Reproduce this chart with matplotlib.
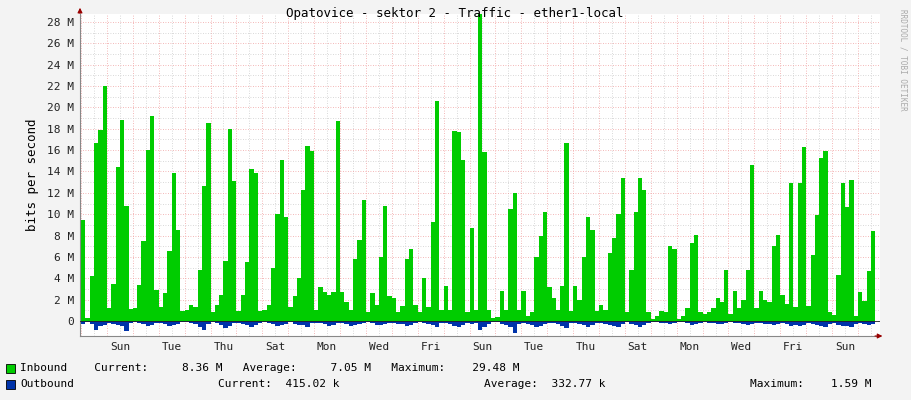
import matplotlib
matplotlib.use("Agg")
import matplotlib.pyplot as plt
import numpy as np

# Inbound traffic, Mbit/s, 4-hour bins, first bin starts at day -1 (Saturday)
inbound_rows = [
    [9.5, 0.3, 4.2, 16.7, 17.9, 22.0],
    [1.2, 3.5, 14.4, 18.8, 10.8, 1.1],
    [1.2, 3.4, 7.5, 16.0, 19.2, 2.9],
    [1.3, 2.6, 6.6, 13.9, 8.5, 0.9],
    [1.0, 1.5, 1.3, 4.8, 12.6, 18.5],
    [0.8, 1.5, 2.4, 5.6, 18.0, 13.1],
    [0.9, 2.4, 5.5, 14.2, 13.9, 0.9],
    [1.0, 1.5, 5.0, 10.0, 15.1, 9.7],
    [1.3, 2.3, 4.0, 12.3, 16.4, 15.9],
    [1.0, 3.2, 2.7, 2.4, 2.7, 18.7],
    [2.7, 1.8, 1.0, 5.8, 7.6, 11.3],
    [0.8, 2.6, 1.5, 6.0, 10.8, 2.3],
    [2.2, 0.8, 1.4, 5.8, 6.7, 1.5],
    [0.8, 4.0, 1.3, 9.3, 20.6, 1.0],
    [3.3, 1.0, 17.8, 17.7, 15.1, 0.8],
    [8.7, 1.0, 29.5, 15.8, 1.0, 0.3],
    [0.4, 2.8, 1.0, 10.5, 12.0, 1.0],
    [2.8, 0.5, 0.8, 6.0, 8.0, 10.2],
    [3.2, 2.2, 1.0, 3.3, 16.7, 0.9],
    [3.3, 2.0, 6.0, 9.7, 8.5, 0.9],
    [1.5, 1.0, 6.4, 7.8, 10.0, 13.4],
    [0.8, 4.8, 10.2, 13.4, 12.3, 0.8],
    [0.2, 0.5, 0.9, 0.8, 7.0, 6.7],
    [0.2, 0.5, 1.2, 7.3, 8.1, 0.8],
    [0.7, 0.8, 1.2, 2.2, 1.8, 4.8],
    [0.7, 2.8, 1.2, 2.0, 4.8, 14.6],
    [1.2, 2.8, 2.0, 1.8, 7.0, 8.1],
    [2.4, 1.6, 12.9, 1.3, 12.9, 16.3],
    [1.4, 6.2, 9.9, 15.3, 15.9, 0.8],
    [0.6, 4.3, 12.9, 10.7, 13.2, 0.5],
    [2.7, 1.9, 4.7, 8.4],
]
outbound_rows = [
    [0.3, 0.1, 0.3, 0.8, 0.5, 0.4],
    [0.2, 0.3, 0.4, 0.5, 0.9, 0.2],
    [0.1, 0.2, 0.3, 0.5, 0.4, 0.2],
    [0.2, 0.3, 0.5, 0.4, 0.3, 0.1],
    [0.1, 0.2, 0.3, 0.6, 0.8, 0.3],
    [0.1, 0.2, 0.4, 0.7, 0.5, 0.2],
    [0.2, 0.3, 0.4, 0.6, 0.4, 0.2],
    [0.1, 0.2, 0.3, 0.5, 0.4, 0.3],
    [0.1, 0.3, 0.4, 0.4, 0.6, 0.2],
    [0.2, 0.2, 0.3, 0.5, 0.4, 0.2],
    [0.2, 0.3, 0.5, 0.4, 0.3, 0.2],
    [0.1, 0.2, 0.4, 0.4, 0.3, 0.2],
    [0.2, 0.3, 0.3, 0.5, 0.4, 0.2],
    [0.1, 0.2, 0.3, 0.4, 0.6, 0.2],
    [0.2, 0.3, 0.5, 0.6, 0.4, 0.2],
    [0.3, 0.2, 0.8, 0.6, 0.3, 0.1],
    [0.1, 0.3, 0.4, 0.6, 1.1, 0.3],
    [0.2, 0.3, 0.4, 0.6, 0.5, 0.3],
    [0.2, 0.2, 0.3, 0.5, 0.7, 0.2],
    [0.2, 0.3, 0.4, 0.6, 0.4, 0.2],
    [0.2, 0.3, 0.4, 0.5, 0.6, 0.3],
    [0.1, 0.3, 0.4, 0.6, 0.4, 0.2],
    [0.1, 0.1, 0.2, 0.2, 0.3, 0.2],
    [0.1, 0.1, 0.2, 0.4, 0.3, 0.2],
    [0.1, 0.2, 0.2, 0.3, 0.3, 0.2],
    [0.1, 0.2, 0.2, 0.3, 0.4, 0.3],
    [0.2, 0.2, 0.3, 0.3, 0.4, 0.3],
    [0.2, 0.3, 0.5, 0.4, 0.5, 0.4],
    [0.2, 0.3, 0.4, 0.5, 0.6, 0.3],
    [0.2, 0.4, 0.5, 0.5, 0.6, 0.3],
    [0.2, 0.3, 0.4, 0.3],
]
day_labels = ["Sun", "Tue", "Thu", "Sat", "Mon", "Wed", "Fri",
              "Sun", "Tue", "Thu", "Sat", "Mon", "Wed", "Fri", "Sun"]
y_ticks = [0, 2, 4, 6, 8, 10, 12, 14, 16, 18, 20, 22, 24, 26, 28]

inbound = np.concatenate([np.array(r) for r in inbound_rows])
outbound = np.concatenate([np.array(r) for r in outbound_rows])
t = -1 + np.arange(len(inbound)) / 6.0  # days, relative to first Sunday midnight

W, H = 911, 400
fig = plt.figure(figsize=(W / 100, H / 100), dpi=100, facecolor="#F3F3F3")
x0, x1, ybot, ytop = 80, 880, 336, 14
ax = fig.add_axes([x0 / W, 1 - ybot / H, (x1 - x0) / W, (ybot - ytop) / H])
ax.set_facecolor("white")
xmin, xmax = -1.04, 29.85
ppm = (321 - 22) / 28.0
ymin, ymax = -(ybot - 321) / ppm, 28 + (22 - ytop) / ppm
ax.set_xlim(xmin, xmax)
ax.set_ylim(ymin, ymax)

mono = "DejaVu Sans Mono"
fs = 8
for d in np.arange(-1, 30, 0.5):
    major = float(d).is_integer()
    ax.axvline(d, color="#F0A0A0" if major else "#CCCCCC", lw=0.6, ls=(0, (1, 2)), zorder=0)
for v in np.arange(0, 29, 1):
    ax.axhline(v, color="#F0A0A0" if v % 2 == 0 else "#CCCCCC", lw=0.6, ls=(0, (1, 2)), zorder=0)

ax.bar(t, inbound, width=1 / 6, align="edge", color="#00CC00", lw=0, zorder=2)
ax.bar(t, -outbound, width=1 / 6, align="edge", color="#0033AA", lw=0, zorder=3)
ax.axhline(0, color="#222222", lw=0.6, zorder=4)

for s in ["top", "right"]:
    ax.spines[s].set_visible(False)
for s in ["left", "bottom"]:
    ax.spines[s].set_color("#888888")
    ax.spines[s].set_linewidth(0.8)

ax.set_yticks(y_ticks)
ax.set_yticklabels([f"{v} M" if v else "0" for v in y_ticks], fontfamily=mono, fontsize=fs)
ax.set_xticks([0.5 + 2 * i for i in range(len(day_labels))])
ax.set_xticklabels(day_labels, fontfamily=mono, fontsize=fs)
ax.tick_params(length=0, pad=4, colors="#222222")
ax.set_ylabel("bits per second", fontfamily=mono, fontsize=9, labelpad=6)

ax.annotate("", xy=(xmin, ymax + 9 / ppm), xytext=(xmin, ymax - 2 / ppm),
            arrowprops=dict(arrowstyle="-|>", color="#990000", lw=0.8, mutation_scale=7), annotation_clip=False)
ax.annotate("", xy=(xmax + 0.2, ymin), xytext=(xmax - 0.3, ymin),
            arrowprops=dict(arrowstyle="-|>", color="#990000", lw=0.8, mutation_scale=7), annotation_clip=False)

fig.text(455 / W, 1 - 14 / H, "Opatovice - sektor 2 - Traffic - ether1-local",
         ha="center", va="center", fontfamily=mono, fontsize=9)
fig.text(903 / W, 1 - 60 / H, "RRDTOOL / TOBI OETIKER", rotation=270, ha="center", va="center",
         fontfamily=mono, fontsize=5.5, color="#AAAAAA")

for yy, col in [(368, "#00CC00"), (384, "#0033AA")]:
    fig.patches.append(plt.Rectangle((6 / W, 1 - (yy + 5) / H), 9 / W, 9 / H, transform=fig.transFigure,
                                     facecolor=col, edgecolor="black", lw=0.6))
fig.text(20 / W, 1 - 368 / H, "Inbound    Current:     8.36 M   Average:     7.05 M   Maximum:    29.48 M",
         va="center", fontfamily=mono, fontsize=fs)
fig.text(20 / W, 1 - 384 / H, "Outbound", va="center", fontfamily=mono, fontsize=fs)
fig.text(218 / W, 1 - 384 / H, "Current:  415.02 k", va="center", fontfamily=mono, fontsize=fs)
fig.text(484 / W, 1 - 384 / H, "Average:  332.77 k", va="center", fontfamily=mono, fontsize=fs)
fig.text(750 / W, 1 - 384 / H, "Maximum:    1.59 M", va="center", fontfamily=mono, fontsize=fs)

fig.savefig("out.png", dpi=100, facecolor=fig.get_facecolor())
